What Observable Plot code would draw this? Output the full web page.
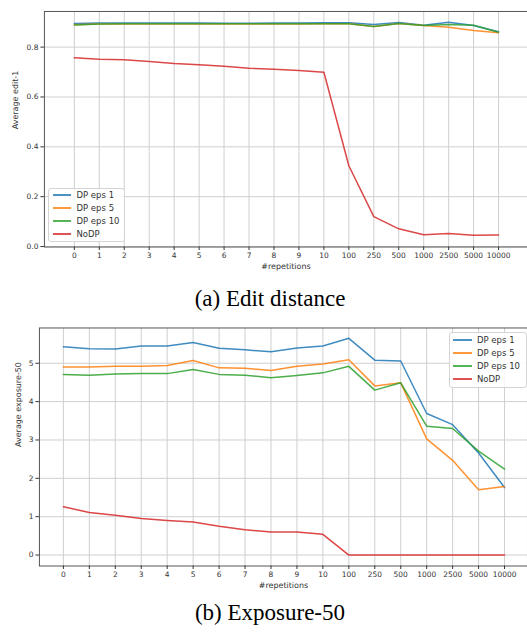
<!DOCTYPE html>
<html>
<head>
<meta charset="utf-8">
<script src="https://cdn.jsdelivr.net/npm/d3@7"></script>
<script src="https://cdn.jsdelivr.net/npm/@observablehq/plot@0.6"></script>
<style>
  html, body { margin: 0; padding: 0; background: #fff; overflow: hidden; }
  #root { position: relative; width: 527px; height: 633px; overflow: hidden; background: #fff; }
  #root svg { position: absolute; left: 0; overflow: visible; }
  .caption { position: absolute; left: 0; width: 540px; text-align: center; font-family: "Liberation Serif", "DejaVu Serif", serif; font-size: 23px; line-height: 23px; color: #000; }
  .legend { position: absolute; border: 1px solid #d4d4d4; border-radius: 3px; background: rgba(255,255,255,0.85); font-family: "DejaVu Sans", sans-serif; font-size: 8.5px; color: #333; box-sizing: border-box; }
  .legend .row { position: absolute; left: 0; height: 12px; line-height: 12px; white-space: nowrap; }
  .legend .sw { position: absolute; top: 5px; height: 2px; opacity: 0.8; }
  .legend .lb { position: absolute; top: 0; }
</style>
</head>
<body>
<div id="root"></div>
<script>
const reps = ["0","1","2","3","4","5","6","7","8","9","10","100","250","500","1000","2500","5000","10000"];
const seriesNames = ["DP eps 1","DP eps 5","DP eps 10","NoDP"];
const seriesColors = ["#1f77b4","#ff7f0e","#2ca02c","#d62728"];

// (a) Edit distance — Average edit-1
const editEps1  = [0.895,0.897,0.897,0.897,0.897,0.897,0.896,0.896,0.897,0.897,0.898,0.898,0.891,0.899,0.888,0.900,0.887,0.862];
const editEps5  = [0.890,0.893,0.893,0.893,0.893,0.893,0.893,0.893,0.893,0.893,0.894,0.894,0.883,0.895,0.887,0.880,0.867,0.858];
const editEps10 = [0.889,0.893,0.894,0.894,0.894,0.894,0.894,0.894,0.894,0.894,0.894,0.894,0.883,0.895,0.887,0.891,0.888,0.860];
const editNoDP  = [0.757,0.751,0.749,0.742,0.734,0.729,0.723,0.715,0.711,0.706,0.699,0.324,0.120,0.071,0.047,0.052,0.045,0.046];

// (b) Exposure-50 — Average exposure-50
const expEps1  = [5.43,5.38,5.37,5.45,5.45,5.54,5.39,5.35,5.30,5.40,5.45,5.65,5.08,5.06,3.69,3.40,2.66,1.76];
const expEps5  = [4.90,4.90,4.92,4.92,4.94,5.07,4.88,4.87,4.81,4.92,4.98,5.09,4.41,4.49,3.03,2.47,1.70,1.79];
const expEps10 = [4.71,4.69,4.72,4.73,4.73,4.84,4.71,4.69,4.62,4.68,4.75,4.92,4.30,4.49,3.36,3.30,2.71,2.24];
const expNoDP  = [1.26,1.11,1.04,0.95,0.90,0.86,0.75,0.66,0.60,0.60,0.54,0.00,0.00,0.00,0.00,0.00,0.00,0.00];

const editTicks = [0, 0.2, 0.4, 0.6, 0.8];
const expTicks = [0, 1, 2, 3, 4, 5];

function longForm(arrays) {
  const out = [];
  arrays.forEach((arr, si) => arr.forEach((v, i) => out.push({rep: reps[i], value: v, series: seriesNames[si]})));
  return out;
}
const editData = longForm([editEps1, editEps5, editEps10, editNoDP]);
const expData = longForm([expEps1, expEps5, expEps10, expNoDP]);

function chart({data, yDomain, yTicks, yFormat, yLabel, marginLeft, marginTop, height, marginBottom, labelDy, ylabelDx}) {
  return Plot.plot({
    width: 528,
    height,
    marginLeft,
    marginRight: 0,
    marginTop,
    marginBottom,
    style: {fontFamily: "DejaVu Sans, sans-serif", fontSize: "7.5px", color: "#333", background: "transparent"},
    x: {type: "point", domain: reps, padding: 0.85},
    y: {domain: yDomain},
    color: {domain: seriesNames, range: seriesColors},
    marks: [
      Plot.gridX(reps, {stroke: "#cfcfcf", strokeOpacity: 1, strokeWidth: 1}),
      Plot.gridY(yTicks, {stroke: "#cfcfcf", strokeOpacity: 1, strokeWidth: 1}),
      Plot.lineY(data, {x: "rep", y: "value", stroke: "series", strokeWidth: 1.5, strokeOpacity: 0.85, strokeLinejoin: "round"}),
      Plot.frame({stroke: "#555", strokeWidth: 1}),
      Plot.axisX(reps, {tickSize: 3.5, tickPadding: 2, label: null, stroke: "#333", fill: "#333"}),
      Plot.axisY(yTicks, {tickSize: 3.5, tickPadding: 2.5, tickFormat: yFormat, label: null, stroke: "#333", fill: "#333"}),
      Plot.text(["#repetitions"], {text: d => d, frameAnchor: "bottom", dy: labelDy, fontSize: 8, fill: "#333"}),
      Plot.text([yLabel], {text: d => d, frameAnchor: "left", dx: ylabelDx, rotate: -90, fontSize: 8, fill: "#333"})
    ]
  });
}

const root = document.getElementById("root");

const c1 = chart({
  data: editData, yDomain: [-0.002, 0.943], yTicks: editTicks, yFormat: d3.format(".1f"),
  yLabel: "Average edit-1", marginLeft: 44, marginTop: 11, height: 280, marginBottom: 33,
  labelDy: 22, ylabelDx: -29
});
c1.style.top = "0px";
root.appendChild(c1);

const c2 = chart({
  data: expData, yDomain: [-0.286, 5.92], yTicks: expTicks, yFormat: d3.format("d"),
  yLabel: "Average exposure-50", marginLeft: 39, marginTop: 11.5, height: 284, marginBottom: 34,
  labelDy: 22, ylabelDx: -21
});
c2.style.top = "316px";
root.appendChild(c2);

function legend(left, top, width, height, rowTops, swLeft, swWidth, textLeft) {
  const box = document.createElement("div");
  box.className = "legend";
  Object.assign(box.style, {left: left + "px", top: top + "px", width: width + "px", height: height + "px"});
  seriesNames.forEach((name, i) => {
    const row = document.createElement("div");
    row.className = "row";
    row.style.top = rowTops[i] + "px";
    const sw = document.createElement("div");
    sw.className = "sw";
    Object.assign(sw.style, {left: swLeft + "px", width: swWidth + "px", background: seriesColors[i]});
    const lb = document.createElement("div");
    lb.className = "lb";
    lb.style.left = textLeft + "px";
    lb.textContent = name;
    row.appendChild(sw); row.appendChild(lb);
    box.appendChild(row);
  });
  root.appendChild(box);
}
legend(48, 188, 77, 54, [0, 13, 26, 39], 3.5, 18, 27.5);
legend(448.5, 331.5, 78, 56, [1, 14, 27, 40], 3.5, 19, 27.5);

function caption(text, top) {
  const d = document.createElement("div");
  d.className = "caption";
  d.style.top = top + "px";
  d.textContent = text;
  root.appendChild(d);
}
caption("(a) Edit distance", 287);
caption("(b) Exposure-50", 601);
</script>
</body>
</html>
